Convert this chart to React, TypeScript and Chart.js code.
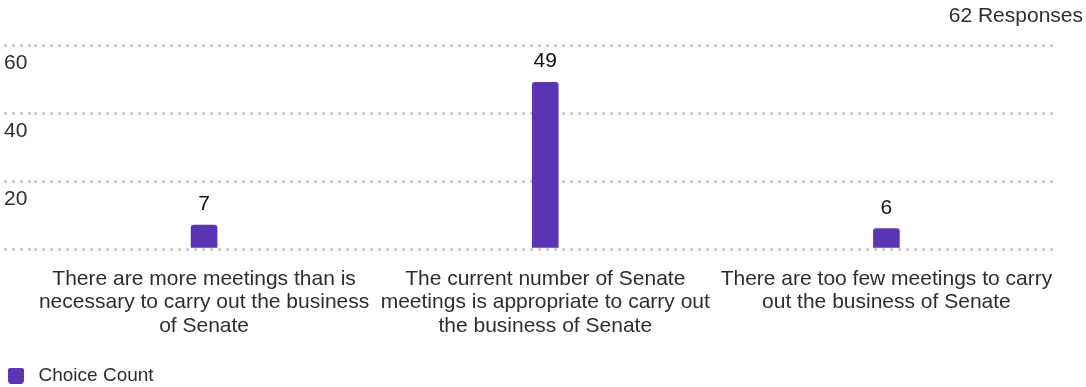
import React, { useEffect, useRef } from 'react';
import { Chart, registerables } from 'chart.js';

Chart.register(...registerables);

// ---- data ----
const categories: string[][] = [
  ['There are more meetings than is', 'necessary to carry out the business', 'of Senate'],
  ['The current number of Senate', 'meetings is appropriate to carry out', 'the business of Senate'],
  ['There are too few meetings to carry', 'out the business of Senate'],
];
const choiceCount: number[] = [7, 49, 6];
const yTickLabels: number[] = [20, 40, 60];
const seriesLabel = 'Choice Count';
const responsesLabel = '62 Responses';

// ---- style ----
const PURPLE = '#5b35b3';
const FONT = "'Liberation Sans', Arial, Helvetica, sans-serif";
const TEXT = '#2e2e2e';
const GRID = '#cdcdcd';
const CANVAS_H = 395;

function makeSwatch(): HTMLCanvasElement {
  const c = document.createElement('canvas');
  c.width = 22;
  c.height = 16;
  const g = c.getContext('2d')!;
  g.fillStyle = PURPLE;
  g.beginPath();
  (g as any).roundRect(1, 0, 16, 16, 3);
  g.fill();
  return c;
}

const valueLabels = {
  id: 'valueLabels',
  afterDatasetsDraw(chart: any) {
    const ctx = chart.ctx;
    const meta = chart.getDatasetMeta(0);
    const data = chart.data.datasets[0].data;
    ctx.save();
    ctx.font = `21px ${FONT}`;
    ctx.fillStyle = '#111';
    ctx.textAlign = 'center';
    ctx.textBaseline = 'alphabetic';
    meta.data.forEach((bar: any, i: number) => {
      ctx.fillText(String(data[i]), bar.x, bar.y - 15);
    });
    ctx.restore();
  },
};

export default function App() {
  const ref = useRef<HTMLCanvasElement | null>(null);

  useEffect(() => {
    if (!ref.current) return;
    const chart = new Chart(ref.current, {
      type: 'bar',
      data: {
        labels: categories,
        datasets: [
          {
            label: seriesLabel,
            data: choiceCount,
            backgroundColor: PURPLE,
            borderWidth: 0,
            borderRadius: 3,
            borderSkipped: 'start',
            barThickness: 26,
          },
        ],
      },
      options: {
        responsive: true,
        maintainAspectRatio: false,
        animation: false,
        layout: { padding: { top: 0, left: 4, right: 3, bottom: 0 } },
        plugins: {
          title: {
            display: true,
            text: responsesLabel,
            align: 'end',
            color: TEXT,
            font: { family: FONT, size: 21, weight: 'normal', lineHeight: 1.2 },
            padding: { top: 3.4, bottom: 16.4 },
          },
          legend: {
            display: true,
            position: 'bottom',
            align: 'start',
            labels: {
              usePointStyle: true,
              pointStyle: makeSwatch() as any,
              pointStyleWidth: 22,
              padding: 3,
              color: TEXT,
              font: { family: FONT, size: 19 },
            },
          },
          tooltip: { enabled: false },
        },
        scales: {
          x: {
            grid: { display: false, drawTicks: false },
            border: { display: false },
            ticks: {
              color: TEXT,
              padding: 18.5,
              maxRotation: 0,
              autoSkip: false,
              font: { family: FONT, size: 21, lineHeight: '23.4px' as any },
            },
            afterFit: (s: any) => {
              s.height = 114;
            },
          },
          y: {
            min: 0,
            max: 60,
            grid: {
              color: GRID,
              lineWidth: 3,
              drawTicks: true,
              tickLength: 29.5,
              tickColor: GRID,
              tickWidth: 3,
              tickBorderDash: [3, 5],
            },
            border: { display: false, dash: [3, 5] },
            ticks: {
              stepSize: 20,
              crossAlign: 'far',
              labelOffset: 18,
              padding: 0,
              color: TEXT,
              font: { family: FONT, size: 21 },
              callback: (v: any) => (yTickLabels.includes(Number(v)) ? String(v) : ''),
            },
            afterFit: (s: any) => {
              s.width = 29.5;
            },
          },
          yRight: {
            position: 'right',
            min: 0,
            max: 60,
            grid: { display: false, drawOnChartArea: false, drawTicks: false },
            border: { display: false },
            ticks: { display: false },
            afterFit: (s: any) => {
              s.width = 26;
            },
          },
        },
      },
      plugins: [valueLabels],
    });
    return () => chart.destroy();
  }, []);

  return (
    <div style={{ position: 'absolute', left: 0, top: 0, width: 1086, height: 387, overflow: 'hidden', background: '#fff' }}>
      <div style={{ position: 'relative', width: 1086, height: CANVAS_H }}>
        <canvas ref={ref} />
      </div>
    </div>
  );
}
